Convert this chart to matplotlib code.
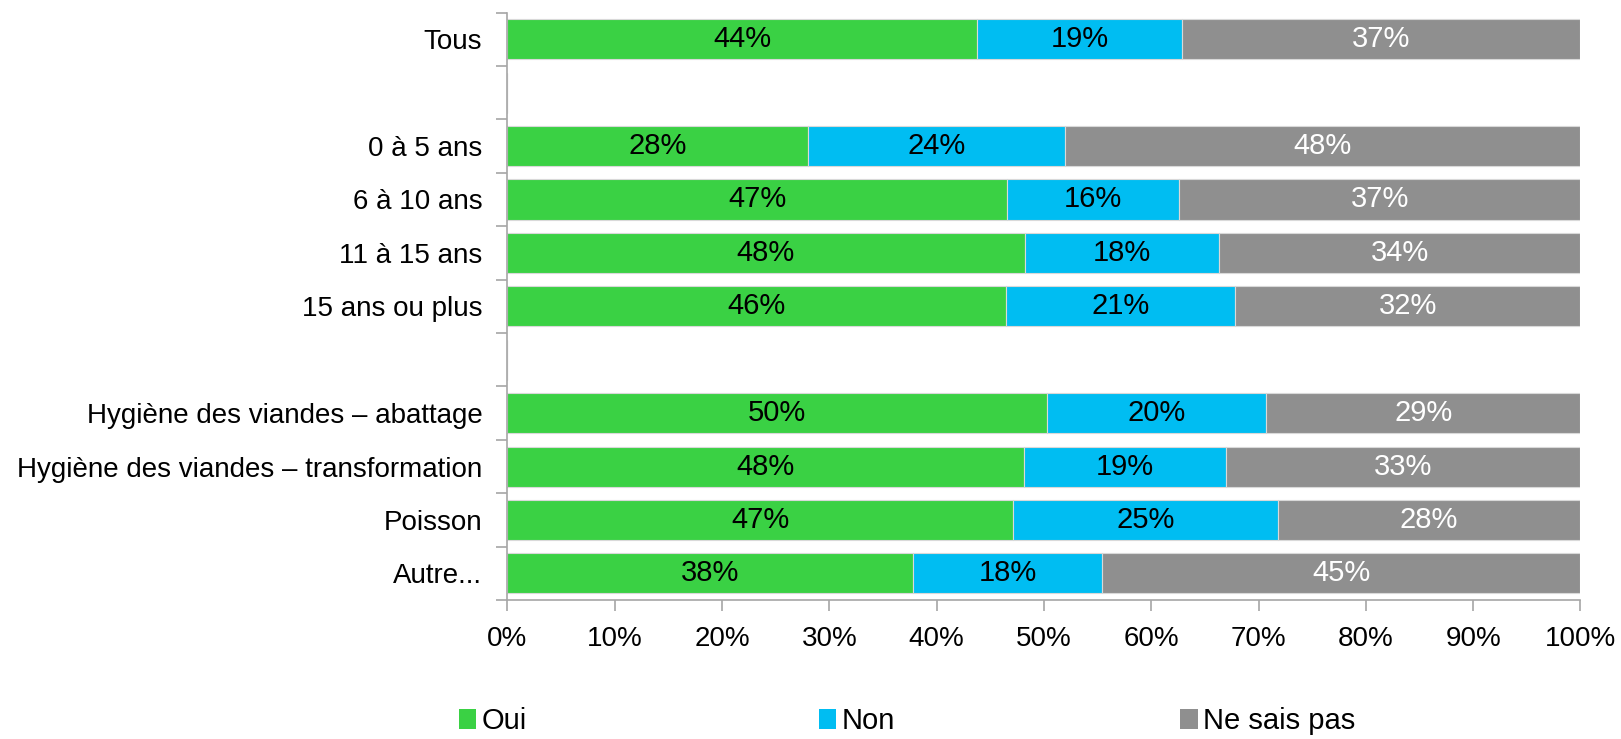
import numpy as np
import matplotlib
matplotlib.use("Agg")
from matplotlib import pyplot as plt
from matplotlib.patches import Patch

plt.rcParams['font.family'] = ['Liberation Sans', 'DejaVu Sans']

# rows from top to bottom, empty strings are spacer rows
categories = ["Tous", "", "0 à 5 ans", "6 à 10 ans", "11 à 15 ans", "15 ans ou plus", "",
              "Hygiène des viandes – abattage", "Hygiène des viandes – transformation",
              "Poisson", "Autre..."]
oui = [43.8, 0, 28.0, 46.6, 48.2, 46.5, 0, 50.3, 48.1, 47.1, 37.8]
non = [19.1, 0, 24.0, 16.0, 18.1, 21.3, 0, 20.4, 18.9, 24.7, 17.6]
nsp = [37.1, 0, 48.0, 37.4, 33.7, 32.2, 0, 29.3, 33.0, 28.2, 44.6]

series = ["Oui", "Non", "Ne sais pas"]
colors = ["#3AD144", "#00BDF2", "#8F8F8F"]
text_colors = ["black", "black", "white"]
fs = 20

fig = plt.figure(figsize=(16.21, 7.39), dpi=100)
ax = fig.add_axes([0.313, 0.188, 0.662, 0.795])

y = np.arange(len(categories))
left = np.zeros(len(categories))
for vals, col, tcol in zip([oui, non, nsp], colors, text_colors):
    vals = np.array(vals)
    ax.barh(y, vals, left=left, height=0.75, color=col, edgecolor="#D9D9D9", linewidth=0.8)
    for yi, v, l in zip(y, vals, left):
        if v > 0:
            ax.text(l + v / 2, yi, f"{v:.0f}%", ha="center", va="center",
                    fontsize=fs + 1, color=tcol)
    left += vals

ax.set_xlim(0, 100)
ax.set_ylim(len(categories) - 0.5, -0.5)

ax.set_xticks(np.arange(0, 101, 10))
ax.set_xticklabels([f"{t}%" for t in range(0, 101, 10)], fontsize=fs)

# boundary ticks between rows, labels centred in rows
ax.set_yticks(np.arange(-0.5, len(categories), 1))
ax.set_yticklabels([])
ax.set_yticks(y, minor=True)
ax.set_yticklabels(categories, minor=True, fontsize=fs)
ax.tick_params(axis="y", which="minor", length=0, pad=18)
ax.tick_params(axis="y", which="major", length=8, color="#A6A6A6", width=1.2)
ax.tick_params(axis="x", length=8, color="#A6A6A6", width=1.2, pad=11)

for side in ["top", "right"]:
    ax.spines[side].set_visible(False)
for side in ["left", "bottom"]:
    ax.spines[side].set_color("#A6A6A6")
    ax.spines[side].set_linewidth(1.2)

legend_x = [0.283, 0.505, 0.728]
for name, col, lx in zip(series, colors, legend_x):
    fig.legend(handles=[Patch(facecolor=col, edgecolor="none")], labels=[name],
               loc="center left", bbox_to_anchor=(lx, 0.024), frameon=False,
               fontsize=fs + 1, handlelength=0.6, handleheight=0.7, handletextpad=0.2,
               borderaxespad=0, borderpad=0)

fig.savefig("out.png", dpi=100)
